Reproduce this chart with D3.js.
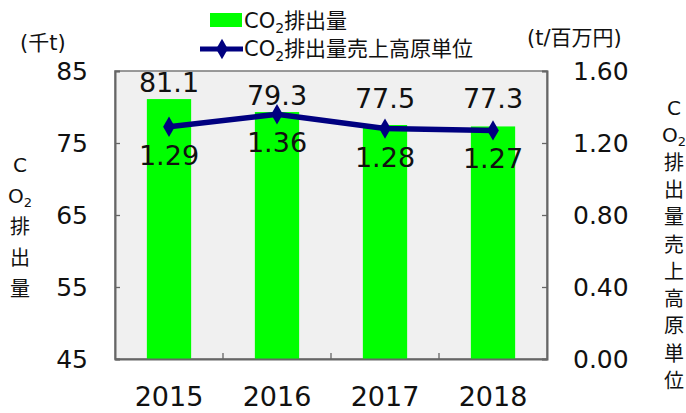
<!DOCTYPE html>
<html>
<head>
<meta charset="utf-8">
<script src="https://cdn.jsdelivr.net/npm/d3@7"></script>
<style>
  body { margin: 0; background: #fff; }
  text { font-family: "DejaVu Sans", Verdana, "Noto Sans CJK JP", sans-serif; fill: #111; }
  .jp { font-family: "DejaVu Sans", "Noto Sans CJK JP", sans-serif; }
</style>
</head>
<body>
<div id="container"></div>
<script>
/* DATA */
const years = ["2015", "2016", "2017", "2018"];
const emissions = [81.1, 79.3, 77.5, 77.3];          // 千t
const intensity = [1.29, 1.36, 1.28, 1.27];          // t/百万円
const leftTicks = [45, 55, 65, 75, 85];
const rightTicks = [0, 0.4, 0.8, 1.2, 1.6];

/* CONSTANTS */
const width = 686;
const height = 413;
const plot = { left: 115, right: 547, top: 71, bottom: 359 };
const barColor = "#00ff00";
const lineColor = "#000080";

const svg = d3.select("#container").append("svg")
  .attr("width", width)
  .attr("height", height);

/* SCALES */
const xScale = d3.scaleBand()
  .domain(years)
  .range([plot.left, plot.right])
  .paddingInner(0.59)
  .paddingOuter(0.295);

const yLeft = d3.scaleLinear()
  .domain([45, 85])
  .range([plot.bottom, plot.top]);

const yRight = d3.scaleLinear()
  .domain([0, 1.6])
  .range([plot.bottom, plot.top]);

// plot background
svg.append("rect")
  .attr("x", plot.left)
  .attr("y", plot.top)
  .attr("width", plot.right - plot.left)
  .attr("height", plot.bottom - plot.top)
  .attr("fill", "#f0f0f0")
  .attr("stroke", "#7a7a7a")
  .attr("stroke-width", 1.5);

/* BARS */
svg.selectAll("rect.bar")
  .data(emissions)
  .join("rect")
  .attr("class", "bar")
  .attr("x", (d, i) => xScale(years[i]))
  .attr("y", d => yLeft(d))
  .attr("width", xScale.bandwidth())
  .attr("height", d => plot.bottom - yLeft(d))
  .attr("fill", barColor);

/* AXES */
const yAxisL = d3.axisLeft(yLeft).tickValues(leftTicks).tickSize(-5).tickPadding(27);
const yAxisR = d3.axisRight(yRight).tickValues(rightTicks).tickSize(-5).tickPadding(26)
  .tickFormat(d3.format(".2f"));

const gl = svg.append("g")
  .attr("transform", `translate(${plot.left},0)`)
  .call(yAxisL);
const gr = svg.append("g")
  .attr("transform", `translate(${plot.right},0)`)
  .call(yAxisR);
[gl, gr].forEach(g => {
  g.select(".domain").attr("stroke", "#666").attr("stroke-width", 2);
  g.selectAll(".tick line").attr("stroke", "#666").attr("stroke-width", 1.3);
  g.selectAll(".tick text").attr("font-size", 25).attr("fill", "#111")
    .attr("font-family", "DejaVu Sans, Verdana, sans-serif");
});

// x axis: labels under the bars, ticks between categories
const xAxis = d3.axisBottom(xScale).tickSize(0).tickPadding(28);
const gx = svg.append("g")
  .attr("transform", `translate(0,${plot.bottom})`)
  .call(xAxis);
gx.select(".domain").attr("stroke", "#666").attr("stroke-width", 2);
gx.selectAll(".tick text").attr("font-size", 27).attr("fill", "#111")
  .attr("font-family", "DejaVu Sans, Verdana, sans-serif");

const gap = (xScale.step() - xScale.bandwidth()) / 2;
svg.selectAll("line.xtick")
  .data(years.slice(1))
  .join("line")
  .attr("class", "xtick")
  .attr("x1", d => xScale(d) - gap)
  .attr("x2", d => xScale(d) - gap)
  .attr("y1", plot.bottom)
  .attr("y2", plot.bottom - 6)
  .attr("stroke", "#666")
  .attr("stroke-width", 1.3);

/* LINE */
const line = d3.line()
  .x((d, i) => xScale(years[i]) + xScale.bandwidth() / 2)
  .y(d => yRight(d));

svg.append("path")
  .datum(intensity)
  .attr("d", line)
  .attr("fill", "none")
  .attr("stroke", lineColor)
  .attr("stroke-width", 5.5);

const diamond = d3.symbol().type(d3.symbolDiamond).size(120);
svg.selectAll("path.marker")
  .data(intensity)
  .join("path")
  .attr("class", "marker")
  .attr("d", diamond)
  .attr("transform", (d, i) => `translate(${xScale(years[i]) + xScale.bandwidth() / 2},${yRight(d)})`)
  .attr("fill", lineColor);

/* DATA LABELS */
svg.selectAll("text.barlabel")
  .data(emissions)
  .join("text")
  .attr("class", "barlabel")
  .attr("x", (d, i) => xScale(years[i]) + xScale.bandwidth() / 2)
  .attr("y", d => Math.min(yLeft(d) - 7, 108))
  .attr("text-anchor", "middle")
  .attr("font-size", 27)
  .text(d => d3.format(".1f")(d));

svg.selectAll("text.linelabel")
  .data(intensity)
  .join("text")
  .attr("class", "linelabel")
  .attr("x", (d, i) => xScale(years[i]) + xScale.bandwidth() / 2)
  .attr("y", d => yRight(d) + 38)
  .attr("text-anchor", "middle")
  .attr("font-size", 27)
  .text(d => d3.format(".2f")(d));

/* LEGEND */
const legend = svg.append("g").attr("class", "jp").attr("font-size", 21);
legend.append("rect")
  .attr("x", 210).attr("y", 13).attr("width", 32).attr("height", 14)
  .attr("fill", barColor);
legend.append("text").attr("x", 244).attr("y", 28)
  .html('CO<tspan font-size="14" dy="5">2</tspan><tspan dy="-5">排出量</tspan>');

legend.append("line")
  .attr("x1", 200).attr("x2", 243).attr("y1", 49).attr("y2", 49)
  .attr("stroke", lineColor).attr("stroke-width", 5);
legend.append("path")
  .attr("d", diamond)
  .attr("transform", "translate(222,49)")
  .attr("fill", lineColor);
legend.append("text").attr("x", 244).attr("y", 56)
  .html('CO<tspan font-size="14" dy="5">2</tspan><tspan dy="-5">排出量売上高原単位</tspan>');

// units
svg.append("text").attr("class", "jp").attr("x", 20).attr("y", 50)
  .attr("font-size", 21).text("(千t)");
svg.append("text").attr("class", "jp").attr("x", 527).attr("y", 45)
  .attr("font-size", 21).text("(t/百万円)");

// vertical axis titles
function verticalTitle(x, y0, step, chars) {
  const g = svg.append("g").attr("class", "jp").attr("font-size", 20);
  chars.forEach((c, i) => {
    const t = g.append("text")
      .attr("x", x)
      .attr("y", y0 + i * step)
      .attr("text-anchor", "middle");
    if (c === "O2") {
      t.html('O<tspan font-size="13" dy="4">2</tspan>');
    } else {
      t.text(c);
    }
  });
}
verticalTitle(20, 172, 31, ["C", "O2", "排", "出", "量"]);
verticalTitle(674, 115, 27.3, ["C", "O2", "排", "出", "量", "売", "上", "高", "原", "単", "位"]);
</script>
</body>
</html>
